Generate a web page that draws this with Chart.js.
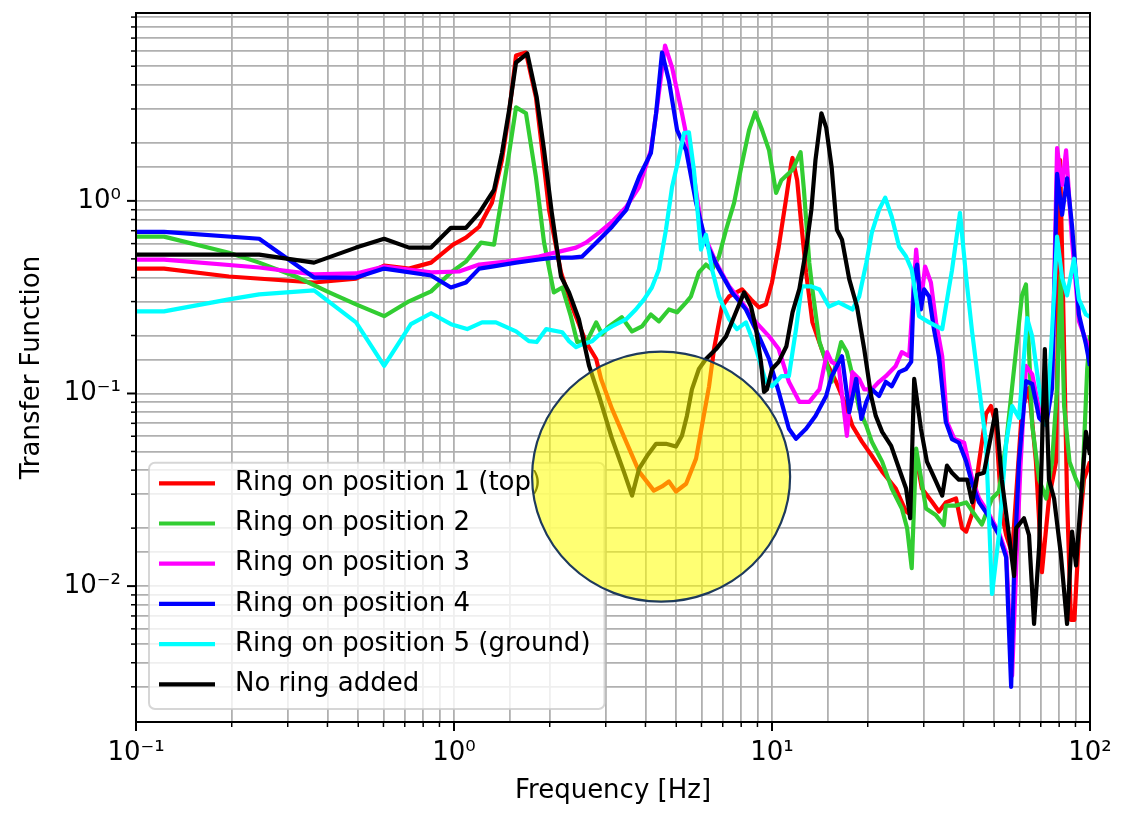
<!DOCTYPE html>
<html>
<head>
<meta charset="utf-8">
<script src="https://cdn.jsdelivr.net/npm/chart.js@4.4.1/dist/chart.umd.min.js"></script>
<style>
  html, body { margin: 0; padding: 0; background: #fff; }
  #wrap { width: 1128px; height: 815px; }
</style>
</head>
<body>
<div id="wrap"><canvas id="tf" width="1128" height="815"></canvas></div>
<script>
// [frequency Hz, transfer function]
const ring1 = [[0.1,0.445],[0.1225,0.445],[0.196,0.405],[0.363,0.377],[0.492,0.395],[0.603,0.461],[0.722,0.445],[0.847,0.478],[0.993,0.593],[1.09,0.644],[1.20,0.734],[1.316,0.977],[1.415,1.63],[1.49,2.85],[1.567,5.68],[1.684,5.89],[1.81,3.45],[1.89,1.90],[1.99,0.898],[2.17,0.425],[2.35,0.283],[2.60,0.185],[2.80,0.151],[2.90,0.119],[3.14,0.0832],[3.48,0.0561],[3.82,0.0393],[4.25,0.0313],[4.51,0.0329],[4.74,0.0349],[4.99,0.031],[5.37,0.034],[5.77,0.0459],[6.02,0.0679],[6.34,0.109],[6.57,0.17],[6.96,0.283],[7.33,0.319],[8.05,0.347],[8.59,0.308],[9.10,0.28],[9.57,0.29],[10.0,0.377],[10.5,0.578],[11.1,1.05],[11.5,1.57],[11.6,1.67],[12.0,1.28],[12.3,0.827],[12.8,0.425],[13.4,0.234],[14.8,0.146],[15.9,0.115],[17.1,0.0861],[17.9,0.0679],[19.2,0.0561],[20.6,0.0475],[22.2,0.0393],[24.5,0.0321],[26.4,0.0244],[27.5,0.0233],[28.4,0.0475],[29.6,0.0321],[31.8,0.0275],[33.5,0.0244],[35.2,0.0272],[37.9,0.0285],[39.6,0.02],[40.8,0.0192],[42.6,0.0238],[44.8,0.0443],[47.1,0.0783],[48.8,0.0861],[50.6,0.0687],[52.8,0.0238],[54.5,0.0184],[56.9,0.0148],[61.1,0.0822],[64.3,0.107],[67.6,0.0443],[70.6,0.0118],[74.3,0.0285],[78.2,0.0443],[80.5,1.63],[82.3,0.308],[84.7,0.0285],[87.1,0.00667],[89.3,0.00667],[92.3,0.0184],[95.7,0.0357],[100,0.0443]];
const ring2 = [[0.1,0.652],[0.1225,0.652],[0.196,0.538],[0.244,0.478],[0.318,0.405],[0.405,0.335],[0.492,0.29],[0.603,0.252],[0.722,0.301],[0.847,0.339],[0.978,0.425],[1.09,0.484],[1.216,0.607],[1.336,0.593],[1.415,1.05],[1.49,1.77],[1.567,3.06],[1.684,2.85],[1.81,1.33],[1.92,0.607],[2.06,0.335],[2.19,0.355],[2.33,0.252],[2.44,0.185],[2.62,0.187],[2.80,0.234],[2.92,0.203],[3.07,0.223],[3.37,0.249],[3.63,0.21],[3.90,0.223],[4.16,0.257],[4.41,0.237],[4.74,0.273],[5.03,0.264],[5.37,0.297],[5.56,0.319],[5.89,0.425],[6.20,0.467],[6.48,0.44],[6.81,0.514],[7.17,0.708],[7.60,0.977],[8.05,1.57],[8.47,2.33],[8.85,2.88],[9.31,2.33],[9.79,1.83],[10.3,1.10],[10.7,1.28],[11.6,1.45],[12.3,1.79],[12.6,1.14],[13.1,0.478],[13.4,0.347],[14.1,0.185],[14.8,0.146],[15.4,0.115],[16.5,0.185],[17.2,0.164],[18.1,0.115],[18.8,0.0832],[19.8,0.0679],[20.6,0.0561],[22.2,0.0443],[23.8,0.0321],[25.6,0.0253],[26.6,0.02],[27.5,0.0124],[28.4,0.0517],[30.5,0.0253],[32.8,0.0233],[34.7,0.0207],[35.2,0.0262],[37.9,0.0262],[40.8,0.0272],[43.8,0.023],[45.7,0.0209],[49.2,0.0285],[51.7,0.031],[54.5,0.0555],[58.5,0.166],[61.1,0.323],[62.9,0.368],[64.3,0.166],[65.8,0.0687],[69.2,0.0357],[72.8,0.0285],[76.0,0.0443],[78.8,0.107],[80.9,0.41],[82.9,0.0861],[86.2,0.0443],[90.4,0.0357],[94.4,0.031],[98.0,0.134],[100,0.2]];
const ring3 = [[0.1,0.496],[0.1225,0.496],[0.244,0.451],[0.363,0.415],[0.492,0.42],[0.603,0.456],[0.847,0.425],[1.037,0.43],[1.20,0.467],[1.458,0.484],[1.85,0.514],[2.14,0.545],[2.42,0.572],[2.60,0.607],[2.86,0.684],[3.14,0.779],[3.48,0.931],[3.82,1.18],[4.16,1.83],[4.35,3.06],[4.61,6.40],[4.85,4.93],[5.21,2.85],[5.60,1.57],[6.02,0.708],[6.67,0.478],[7.33,0.36],[8.05,0.297],[8.91,0.234],[9.79,0.198],[10.5,0.17],[11.3,0.115],[12.2,0.0904],[13.1,0.0904],[14.1,0.105],[14.9,0.164],[15.4,0.146],[16.2,0.139],[17.2,0.0603],[17.9,0.129],[18.8,0.119],[19.5,0.105],[20.6,0.105],[21.7,0.115],[22.8,0.123],[24.5,0.139],[25.6,0.164],[27.0,0.156],[28.4,0.558],[29.4,0.297],[30.3,0.456],[31.6,0.377],[32.8,0.234],[34.3,0.156],[35.5,0.0712],[37.5,0.058],[40.2,0.0555],[42.6,0.036],[44.8,0.0285],[48.1,0.0237],[51.7,0.019],[54.5,0.0148],[56.9,0.00343],[58.6,0.0125],[60.4,0.041],[62.9,0.139],[65.8,0.126],[69.2,0.083],[72.8,0.074],[76.0,0.119],[78.8,1.88],[81.7,1.21],[84.1,1.83],[87.8,0.621],[92.3,0.237],[97.1,0.189],[100,0.17]];
const ring4 = [[0.1,0.69],[0.1225,0.69],[0.244,0.636],[0.363,0.40],[0.492,0.40],[0.603,0.445],[0.847,0.41],[0.978,0.355],[1.09,0.377],[1.20,0.445],[1.316,0.456],[1.567,0.478],[1.85,0.496],[2.09,0.508],[2.35,0.508],[2.53,0.514],[2.80,0.607],[3.14,0.734],[3.48,0.898],[3.82,1.33],[4.16,1.77],[4.32,2.85],[4.51,5.89],[4.74,4.22],[5.03,2.33],[5.37,1.83],[5.77,0.977],[6.20,0.607],[6.81,0.44],[7.48,0.335],[8.28,0.273],[9.10,0.198],[9.79,0.151],[10.5,0.102],[11.3,0.0656],[11.9,0.0582],[12.8,0.0656],[13.7,0.0765],[14.8,0.097],[15.4,0.123],[16.6,0.156],[17.5,0.080],[18.4,0.119],[19.1,0.0738],[19.8,0.0904],[20.6,0.105],[21.7,0.097],[22.8,0.115],[23.8,0.109],[25.1,0.129],[26.4,0.134],[27.4,0.146],[28.0,0.405],[28.6,0.467],[29.4,0.273],[30.1,0.347],[31.2,0.319],[32.3,0.216],[33.5,0.156],[35.2,0.0712],[36.8,0.058],[38.7,0.0555],[40.8,0.0443],[42.6,0.034],[44.8,0.0272],[48.1,0.023],[51.7,0.0184],[54.5,0.0141],[56.5,0.0030],[57.7,0.0118],[59.8,0.0443],[62.9,0.116],[65.8,0.112],[69.2,0.0747],[72.8,0.0687],[76.0,0.107],[78.8,1.38],[81.7,0.847],[84.7,1.31],[87.8,0.743],[92.3,0.257],[97.1,0.18],[100,0.139]];
const ring5 = [[0.1,0.267],[0.1225,0.267],[0.196,0.308],[0.244,0.327],[0.363,0.343],[0.492,0.234],[0.603,0.139],[0.732,0.229],[0.847,0.261],[0.978,0.229],[1.10,0.216],[1.225,0.234],[1.355,0.234],[1.567,0.21],[1.72,0.187],[1.82,0.185],[1.95,0.216],[2.19,0.208],[2.30,0.187],[2.42,0.174],[2.53,0.18],[2.72,0.187],[2.92,0.208],[3.14,0.223],[3.48,0.243],[3.73,0.273],[3.96,0.308],[4.19,0.355],[4.41,0.44],[4.64,0.708],[4.85,1.18],[5.10,1.69],[5.29,2.25],[5.48,2.27],[5.68,1.45],[5.98,0.558],[6.20,0.667],[6.48,0.44],[6.81,0.319],[7.33,0.243],[7.76,0.216],[8.28,0.234],[8.91,0.17],[9.57,0.115],[10.0,0.109],[10.7,0.123],[11.3,0.123],[11.9,0.216],[12.4,0.36],[13.3,0.36],[14.1,0.347],[15.1,0.283],[16.2,0.297],[17.9,0.273],[18.8,0.319],[19.8,0.478],[20.6,0.684],[21.7,0.898],[22.7,1.04],[23.8,0.827],[25.1,0.578],[26.4,0.514],[27.5,0.44],[29.0,0.252],[31.2,0.234],[34.3,0.216],[36.0,0.351],[36.8,0.435],[39.0,0.867],[40.8,0.40],[42.6,0.208],[44.8,0.107],[47.1,0.0555],[49.2,0.0091],[51.7,0.0184],[54.5,0.0555],[56.9,0.0861],[59.8,0.0747],[63.4,0.246],[65.8,0.198],[69.2,0.107],[72.8,0.0687],[75.4,0.166],[78.8,0.652],[81.7,0.40],[84.7,0.323],[89.1,0.501],[92.3,0.308],[97.1,0.257],[100,0.25]];
const noRing = [[0.1,0.526],[0.1225,0.526],[0.244,0.526],[0.363,0.478],[0.492,0.572],[0.603,0.636],[0.722,0.572],[0.847,0.572],[0.978,0.725],[1.09,0.725],[1.20,0.867],[1.336,1.14],[1.415,1.77],[1.49,2.95],[1.567,5.23],[1.70,5.82],[1.82,3.45],[1.92,1.83],[2.03,0.867],[2.17,0.405],[2.30,0.335],[2.47,0.243],[2.66,0.139],[2.86,0.097],[3.14,0.0582],[3.42,0.0393],[3.63,0.0295],[3.82,0.0407],[4.05,0.0475],[4.32,0.0548],[4.64,0.0548],[4.99,0.053],[5.21,0.0603],[5.40,0.0765],[5.60,0.105],[5.89,0.134],[6.20,0.151],[6.67,0.17],[7.17,0.198],[7.70,0.264],[8.17,0.335],[8.59,0.283],[8.91,0.216],[9.23,0.146],[9.44,0.102],[9.64,0.105],[10.0,0.134],[10.5,0.146],[11.1,0.176],[11.6,0.264],[12.2,0.35],[12.8,0.56],[13.3,0.90],[13.7,1.63],[14.3,2.85],[14.8,2.41],[15.4,1.50],[16.0,0.708],[16.6,0.629],[17.5,0.391],[18.5,0.283],[19.5,0.17],[20.5,0.097],[21.2,0.0765],[22.2,0.0632],[23.7,0.0535],[25.1,0.0407],[26.4,0.0321],[27.2,0.0225],[28.0,0.119],[29.4,0.0656],[30.7,0.0443],[32.8,0.0349],[34.3,0.0295],[35.5,0.0422],[36.8,0.0388],[38.7,0.0357],[41.1,0.0357],[42.6,0.0272],[44.2,0.0379],[46.4,0.0388],[50.6,0.0822],[52.8,0.0357],[55.6,0.0184],[57.7,0.0113],[58.6,0.02],[62.0,0.0225],[64.3,0.0184],[66.7,0.00636],[69.2,0.0161],[72.1,0.17],[74.3,0.0357],[77.1,0.0285],[80.9,0.0148],[84.7,0.00636],[87.8,0.0192],[90.4,0.0128],[94.4,0.034],[97.1,0.0632],[100,0.048]];

const seriesLabels = ["Ring on position 1 (top)", "Ring on position 2", "Ring on position 3",
  "Ring on position 4", "Ring on position 5 (ground)", "No ring added"];
const seriesData = [ring1, ring2, ring3, ring4, ring5, noRing];
const seriesColors = ["#ff0000", "#32cd32", "#ff00ff", "#0000ff", "#00ffff", "#000000"];

// highlighted region (yellow circle), centre in data units
const highlight = { freq: 4.48, value: 0.037 };

const FONT = "'DejaVu Sans', sans-serif";
const SUP = { "-": "\u207B", "0": "\u2070", "1": "\u00B9", "2": "\u00B2", "3": "\u00B3" };
const LINE_W = 4.2;

function decadeLabel(v) {
  const e = Math.log10(v);
  const r = Math.round(e);
  if (Math.abs(e - r) > 1e-6) return "";
  return "10" + String(r).split("").map(c => SUP[c]).join("");
}

// black frame + matplotlib-like major/minor tick marks
const frameTicks = {
  id: "frameTicks",
  afterDatasetsDraw(chart) {
    const { ctx, chartArea: a, scales } = chart;
    ctx.save();
    ctx.strokeStyle = "#000";
    const marks = (scale, horiz) => {
      scale.ticks.forEach(t => {
        const e = Math.log10(t.value);
        const major = Math.abs(e - Math.round(e)) < 1e-6;
        const m = t.value / Math.pow(10, Math.floor(e + 1e-9));
        if (!major && Math.abs(m - Math.round(m)) > 1e-6) return;
        const p = scale.getPixelForValue(t.value);
        const len = major ? 9 : 5;
        ctx.lineWidth = major ? 2 : 1.5;
        ctx.beginPath();
        if (horiz) { ctx.moveTo(p, a.bottom); ctx.lineTo(p, a.bottom + len); }
        else { ctx.moveTo(a.left, p); ctx.lineTo(a.left - len, p); }
        ctx.stroke();
      });
    };
    marks(scales.x, true);
    marks(scales.y, false);
    ctx.lineWidth = 2;
    ctx.strokeRect(a.left, a.top, a.right - a.left, a.bottom - a.top);
    ctx.restore();
  }
};

// legend in the lower left corner of the axes
const insideLegend = {
  id: "insideLegend",
  afterDatasetsDraw(chart) {
    const { ctx, chartArea: a } = chart;
    const sets = chart.data.datasets;
    ctx.save();
    ctx.font = "26px " + FONT;
    const textW = Math.max(...sets.map(d => ctx.measureText(d.label).width));
    const rowH = 40.2;
    const w = 86 + textW + 14;
    const h = rowH * sets.length + 5;
    const x0 = a.left + 13;
    const y0 = a.bottom - 13 - h;
    ctx.beginPath();
    ctx.roundRect(x0, y0, w, h, 6);
    ctx.fillStyle = "rgba(255,255,255,0.8)";
    ctx.fill();
    ctx.lineWidth = 2;
    ctx.strokeStyle = "rgba(204,204,204,0.8)";
    ctx.stroke();
    sets.forEach((d, i) => {
      const cy = y0 + 20.5 + i * rowH;
      ctx.strokeStyle = d.borderColor;
      ctx.lineWidth = LINE_W;
      ctx.beginPath();
      ctx.moveTo(x0 + 10, cy);
      ctx.lineTo(x0 + 66, cy);
      ctx.stroke();
      ctx.fillStyle = "#000";
      ctx.textBaseline = "middle";
      ctx.textAlign = "left";
      ctx.fillText(d.label, x0 + 86, cy);
    });
    ctx.restore();
  }
};

// translucent yellow highlight drawn over everything
const highlightCircle = {
  id: "highlightCircle",
  afterDraw(chart) {
    const { ctx, scales } = chart;
    const cx = scales.x.getPixelForValue(highlight.freq);
    const cy = scales.y.getPixelForValue(highlight.value);
    ctx.save();
    ctx.beginPath();
    ctx.ellipse(cx, cy, 129, 125, 0, 0, Math.PI * 2);
    ctx.fillStyle = "rgba(255,255,0,0.55)";
    ctx.fill();
    ctx.lineWidth = 2.2;
    ctx.strokeStyle = "#1e3a5c";
    ctx.stroke();
    ctx.restore();
  }
};

const datasets = seriesData.map((pts, i) => ({
  label: seriesLabels[i],
  data: pts.map(p => ({ x: p[0], y: p[1] })),
  borderColor: seriesColors[i],
  backgroundColor: seriesColors[i],
  borderWidth: LINE_W,
  borderJoinStyle: "round",
  pointRadius: 0,
  tension: 0,
  fill: false,
  order: seriesData.length - i
}));

const tickFont = { family: FONT, size: 26 };

new Chart(document.getElementById("tf"), {
  type: "line",
  data: { datasets },
  options: {
    responsive: false,
    animation: false,
    devicePixelRatio: 1,
    events: [],
    layout: { autoPadding: false, padding: { top: 13, right: 38, left: 0, bottom: 0 } },
    scales: {
      x: {
        type: "logarithmic",
        min: 0.1,
        max: 100,
        afterFit: s => { s.height = 93; s.paddingLeft = 0; s.paddingRight = 0; },
        grid: { color: "#b0b0b0", lineWidth: 1.8, drawTicks: false },
        border: { display: false },
        ticks: {
          autoSkip: false, maxRotation: 0, minRotation: 0,
          padding: 16, color: "#000", font: tickFont,
          callback: v => decadeLabel(v)
        },
        title: {
          display: true, text: "Frequency [Hz]", color: "#000",
          font: { family: FONT, size: 26 }, padding: { top: 0, bottom: 8 }
        }
      },
      y: {
        type: "logarithmic",
        min: 0.00197,
        max: 9.45,
        afterFit: s => { s.width = 136; s.paddingTop = 0; s.paddingBottom = 0; },
        grid: { color: "#b0b0b0", lineWidth: 1.8, drawTicks: false },
        border: { display: false },
        ticks: {
          autoSkip: false, padding: 15, color: "#000", font: tickFont,
          callback: v => decadeLabel(v)
        },
        title: {
          display: true, text: "Transfer Function", color: "#000",
          font: { family: FONT, size: 26 }, padding: { top: 17, bottom: 0 }
        }
      }
    },
    plugins: {
      legend: { display: false },
      tooltip: { enabled: false },
      title: { display: false }
    }
  },
  plugins: [frameTicks, insideLegend, highlightCircle]
});
</script>
</body>
</html>
